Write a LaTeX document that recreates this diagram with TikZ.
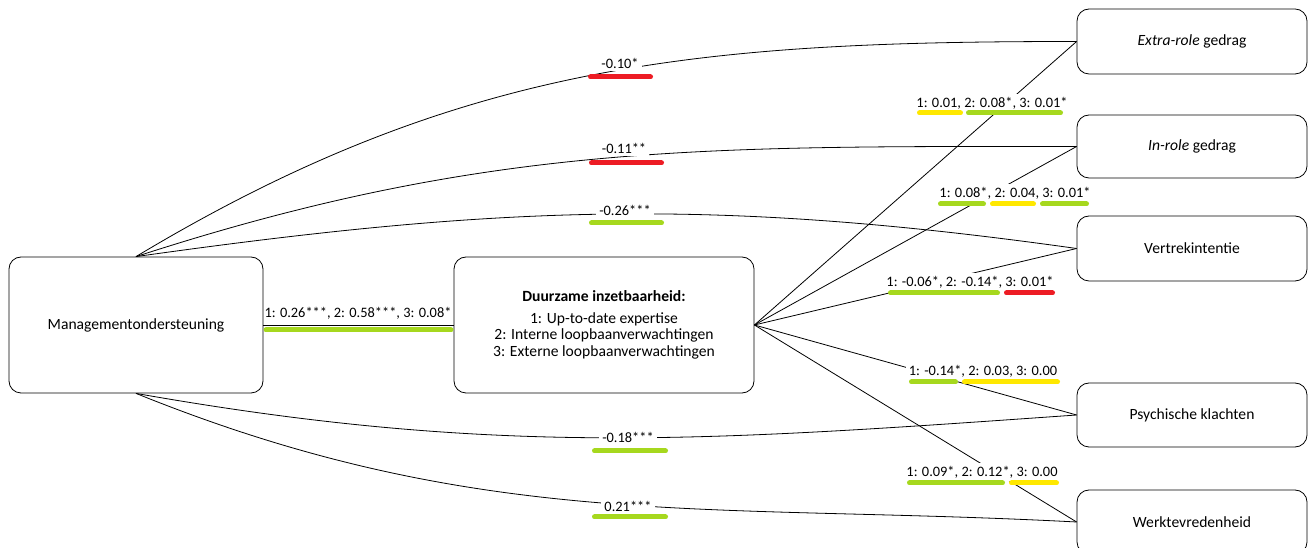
\documentclass[tikz,border=0pt]{standalone}
\usepackage{fontspec}
\setmainfont{Carlito}
\usetikzlibrary{positioning, fit, calc}

\begin{document}
\begin{tikzpicture}[x=1pt, y=1pt, line width=0.8pt]
		\definecolor{mred}{RGB}{237,28,36}
		\definecolor{mgreen}{RGB}{166,216,30}
		\definecolor{myellow}{RGB}{255,232,0}
		\fontsize{14.4}{16}\selectfont
		\tikzset{
			box/.style={draw, rounded corners=12pt, inner sep=0pt, fill=white},
			every label/.style={font=\fontsize{15.6}{16.5}\selectfont},
			lbl/.style={fill=white, inner sep=3pt},
			sigbar/.style={line width=5pt, line cap=round}
		}
		\useasboundingbox (0,0) rectangle (1311,548);

		% Management & inzetbaarheid
		\node[box, fit={(9,155) (263,291)},
			label=center:{Managementondersteuning}
			] (mo) {};
		\node[box, fit={(454,155) (754,291)},
			label={[align=center]center:{\textbf{Duurzame inzetbaarheid:}\\[5pt]1: Up-to-date expertise\\2: Interne loopbaanverwachtingen\\3: Externe loopbaanverwachtingen}}
			] (di) {};

		% Outcomes
		\node[box, fit={(1077,474) (1307,539)},
			label=center:{\textit{Extra-role} gedrag}
			] (extra) {};
		\node[box, fit={(1077,370) (1307,433)},
			label=center:{\textit{In-role} gedrag}
			] (inrole) {};
		\node[box, fit={(1077,267) (1307,332)},
			label=center:{Vertrekintentie}
			] (vertrek) {};
		\node[box, fit={(1077,101) (1307,165)},
			label=center:{Psychische klachten}
			] (psych) {};
		\node[box, fit={(1077,-6) (1307,58)},
			label=center:{Werktevredenheid}
			] (werk) {};

		% Edges
		\draw (mo.east) -- (di.west);
		\draw (mo.north) edge[out=31,in=180] (extra.west)
			edge[out=18,in=180] (inrole.west)
			edge[out=8,in=172] (vertrek.west);
		\draw (mo.south) edge[out=-10,in=184] (psych.west)
			edge[out=-22,in=177] (werk.west);
		\draw (di.east) edge (extra.west)
			edge (inrole.west)
			edge (vertrek.west)
			edge (psych.west)
			edge (werk.west);

		% Coefficients
		\node (l-mo-di) at (358,235) {1: 0.26***, 2: 0.58***, 3: 0.08*};
		\node[lbl] (l-mo-extra) at (620,485) {-0.10*};
		\node[lbl] (l-mo-inrole) at (624,400) {-0.11**};
		\node[lbl] (l-mo-vertrek) at (625,338) {-0.26***};
		\node[lbl] (l-mo-psych) at (628,111) {-0.18***};
		\node[lbl] (l-mo-werk) at (628,42) {0.21***};
		\node[lbl] (l-di-extra) at (992,445) {1: 0.01, 2: 0.08*, 3: 0.01*};
		\node[lbl] (l-di-inrole) at (1015,355) {1: 0.08*, 2: 0.04, 3: 0.01*};
		\node[lbl] (l-di-vertrek) at (970,266) {1: -0.06*, 2: -0.14*, 3: 0.01*};
		\node[lbl] (l-di-psych) at (983,177) {1: -0.14*, 2: 0.03, 3: 0.00};
		\node[lbl] (l-di-werk) at (982,76) {1: 0.09*, 2: 0.12*, 3: 0.00};

		% Significance bars
		\draw[sigbar, mgreen] (266,218) -- (451,218);
		\draw[sigbar, mred] (590.5,471) -- (650.5,471);
		\draw[sigbar, mred] (591.5,385) -- (661.5,385);
		\draw[sigbar, mgreen] (591.5,325) -- (661.5,325);
		\draw[sigbar, mgreen] (594.5,97) -- (665.5,97);
		\draw[sigbar, mgreen] (594.5,31) -- (665.5,31);
		\draw[sigbar, myellow] (919.5,435) -- (960.5,435);
		\draw[sigbar, mgreen] (968.5,435) -- (1060.5,435);
		\draw[sigbar, mgreen] (940.5,344) -- (983.5,344);
		\draw[sigbar, myellow] (992.5,344) -- (1033.5,344);
		\draw[sigbar, mgreen] (1042.5,344) -- (1086.5,344);
		\draw[sigbar, mgreen] (890.5,255) -- (997.5,255);
		\draw[sigbar, mred] (1006.5,255) -- (1052.5,255);
		\draw[sigbar, mgreen] (911.5,166) -- (955.5,166);
		\draw[sigbar, myellow] (964.5,166) -- (1057.5,166);
		\draw[sigbar, mgreen] (909.5,65) -- (1002.5,65);
		\draw[sigbar, myellow] (1011.5,65) -- (1056.5,65);
	\end{tikzpicture}
\end{document}
